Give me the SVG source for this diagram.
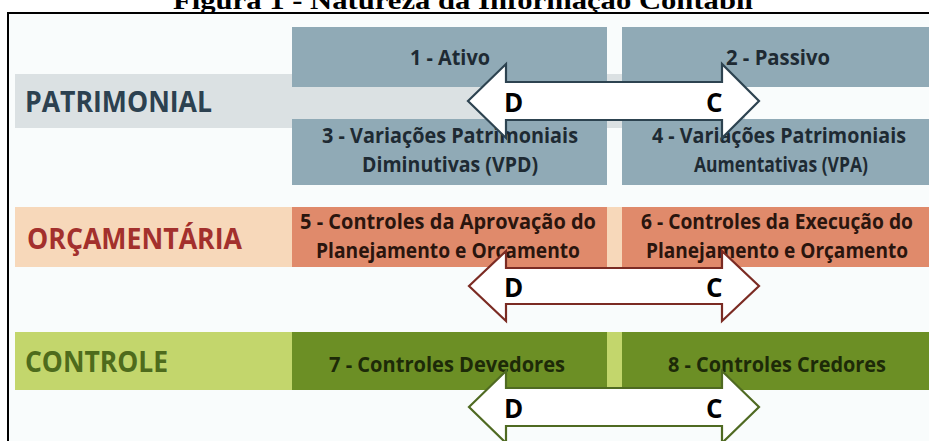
<svg xmlns="http://www.w3.org/2000/svg" width="929" height="441" viewBox="0 0 929 441">
<style>
.title{font-family:"Liberation Serif","Times New Roman",serif;font-weight:bold;font-size:26px;fill:#000}
.hdr{font-family:"Open Sans","Noto Sans",sans-serif;font-weight:bold;font-size:29px}
.bt{font-family:"Open Sans","Noto Sans",sans-serif;font-weight:bold;font-size:21px;text-anchor:middle}
.dc{font-family:"Open Sans","Noto Sans",sans-serif;font-weight:bold;font-size:26px;fill:#000}
.pb{fill:#90aab6}.ob{fill:#e08a6b}.cb{fill:#6c8f25}
.pt{fill:#1e2a33}.ot{fill:#2a150e}.ct{fill:#1d2a08}
.arr{fill:#ffffff;stroke-width:2.2;stroke-linejoin:miter}
</style>
<rect x="0" y="0" width="929" height="441" fill="#ffffff"/>
<text class="title" x="173" y="9" textLength="580" lengthAdjust="spacingAndGlyphs">Figura 1 - Natureza da Informação Contábil</text>
<rect x="8" y="13" width="940" height="450" fill="#f9fcfc" stroke="#000" stroke-width="2"/>

<g id="band-patrimonial">
<rect x="15" y="74" width="730" height="54" fill="#dbe1e3"/>
<text class="hdr" x="25" y="112" fill="#2c4150" textLength="187" lengthAdjust="spacingAndGlyphs">PATRIMONIAL</text>
</g>
<g id="band-orcamentaria">
<rect x="15" y="207" width="914" height="60" fill="#f7d8ba"/>
<text class="hdr" x="27" y="249" fill="#a3302d" textLength="215" lengthAdjust="spacingAndGlyphs">ORÇAMENTÁRIA</text>
</g>
<g id="band-controle">
<rect x="15" y="332" width="914" height="58" fill="#c3d66c"/>
<text class="hdr" x="25" y="372" fill="#4e6b1c" textLength="143" lengthAdjust="spacingAndGlyphs">CONTROLE</text>
</g>

<g id="box1"><rect class="pb" x="292" y="27" width="315" height="60"/>
<text class="bt pt" x="450" y="65" textLength="80" lengthAdjust="spacingAndGlyphs">1 - Ativo</text></g>
<g id="box2"><rect class="pb" x="622" y="27" width="307" height="60"/>
<text class="bt pt" x="778" y="65" textLength="104" lengthAdjust="spacingAndGlyphs">2 - Passivo</text></g>
<g id="box3"><rect class="pb" x="292" y="119" width="315" height="66"/>
<text class="bt pt" x="450" y="143" textLength="256" lengthAdjust="spacingAndGlyphs">3 - Variações Patrimoniais</text>
<text class="bt pt" x="450" y="172" textLength="176" lengthAdjust="spacingAndGlyphs">Diminutivas (VPD)</text></g>
<g id="box4"><rect class="pb" x="622" y="119" width="307" height="66"/>
<text class="bt pt" x="779" y="143" textLength="254" lengthAdjust="spacingAndGlyphs">4 - Variações Patrimoniais</text>
<text class="bt pt" x="781" y="172" textLength="174" lengthAdjust="spacingAndGlyphs">Aumentativas (VPA)</text></g>
<g id="box5"><rect class="ob" x="292" y="207" width="315" height="60"/>
<text class="bt ot" x="448" y="229" textLength="296" lengthAdjust="spacingAndGlyphs">5 - Controles da Aprovação do</text>
<text class="bt ot" x="448" y="258" textLength="264" lengthAdjust="spacingAndGlyphs">Planejamento e Orçamento</text></g>
<g id="box6"><rect class="ob" x="622" y="207" width="307" height="60"/>
<text class="bt ot" x="777" y="229" textLength="272" lengthAdjust="spacingAndGlyphs">6 - Controles da Execução do</text>
<text class="bt ot" x="777" y="258" textLength="262" lengthAdjust="spacingAndGlyphs">Planejamento e Orçamento</text></g>
<g id="box7"><rect class="cb" x="292" y="332" width="315" height="58"/>
<text class="bt ct" x="447" y="372" textLength="236" lengthAdjust="spacingAndGlyphs">7 - Controles Devedores</text></g>
<g id="box8"><rect class="cb" x="622" y="332" width="307" height="58"/>
<text class="bt ct" x="777" y="372" textLength="218" lengthAdjust="spacingAndGlyphs">8 - Controles Credores</text></g>

<g id="connectors">
<g id="arrow-patrimonial">
<path class="arr" stroke="#2d4350" d="M468,101 L506,64 L506,82 L722,82 L722,64 L759,101 L722,138 L722,120 L506,120 L506,138 Z"/>
<text class="dc" x="504" y="112">D</text><text class="dc" x="706" y="112">C</text>
</g>
<g id="arrow-orcamentaria">
<path class="arr" stroke="#7b2b23" d="M469,286 L506,251 L506,268 L722,268 L722,251 L759,286 L722,321 L722,304 L506,304 L506,321 Z"/>
<text class="dc" x="504" y="297">D</text><text class="dc" x="706" y="297">C</text>
</g>
<g id="arrow-controle">
<path class="arr" stroke="#4f6a22" d="M469,407 L506,371 L506,388 L722,388 L722,371 L759,407 L722,443 L722,426 L506,426 L506,443 Z"/>
<text class="dc" x="504" y="418">D</text><text class="dc" x="706" y="418">C</text>
</g>
</g>
</svg>
